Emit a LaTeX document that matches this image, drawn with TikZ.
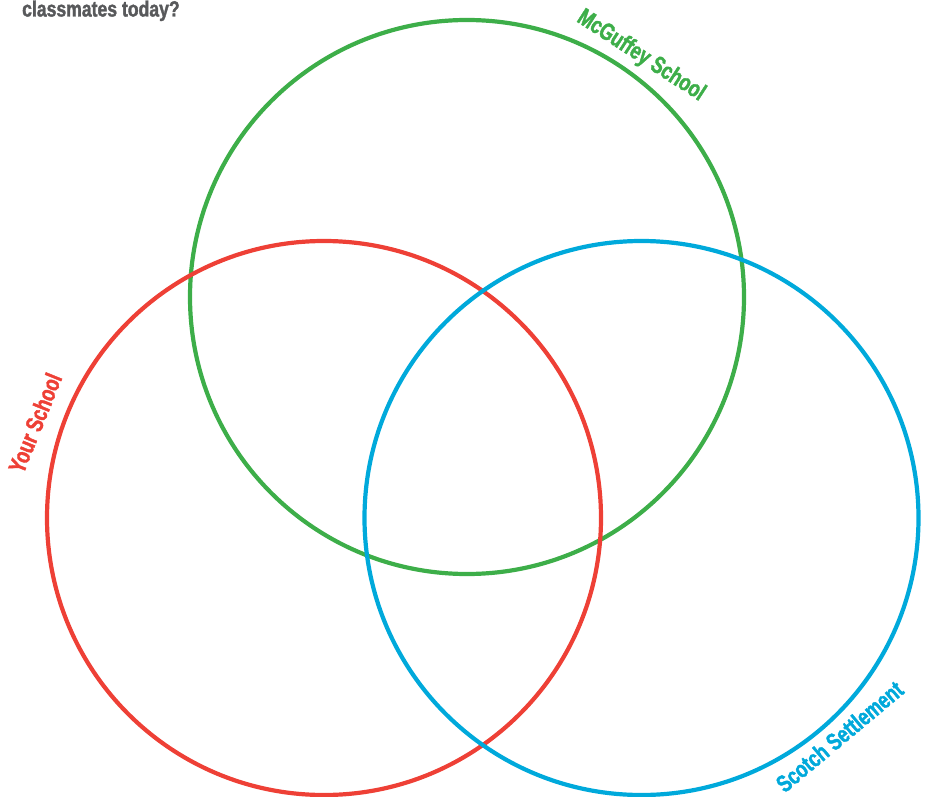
\documentclass[tikz,border=0pt]{standalone}
\usepackage{fontspec}
\newfontfamily\condb{Liberation Sans Bold}[FakeStretch=0.75, FakeBold=1.6]
\newfontfamily\condq{Liberation Sans Bold}[FakeStretch=0.8, FakeBold=1.6]
\definecolor{vgreen}{HTML}{3DAE49}
\definecolor{vred}{HTML}{EE4036}
\definecolor{vblue}{HTML}{00A9DB}
\definecolor{vgray}{HTML}{58595B}
\begin{document}
\begin{tikzpicture}[x=1pt,y=-1pt,
  ring/.style={line width=4.2pt},
  lab/.style={font=\condb\fontsize{24}{24}\selectfont, inner sep=0pt}]
\useasboundingbox (0,0) rectangle (929,797);
\draw[ring, vgreen] (467,297) circle[radius=277];
\draw[ring, vred] (324,518) circle[radius=277];
\draw[ring, vblue] (641.5,518) circle[radius=277];
\node[lab, vgray, anchor=base west, font=\condq\fontsize{22}{22}\selectfont] (q) at (22,16.5) {classmates today?};
\node[lab, vgreen, rotate=-33] (mc) at (641,56) {McGuffey School};
\node[lab, vred, rotate=68] (ys) at (35,423) {Your School};
\node[lab, vblue, rotate=40] (ss) at (839.5,736.5) {Scotch Settlement};
\end{tikzpicture}
\end{document}
